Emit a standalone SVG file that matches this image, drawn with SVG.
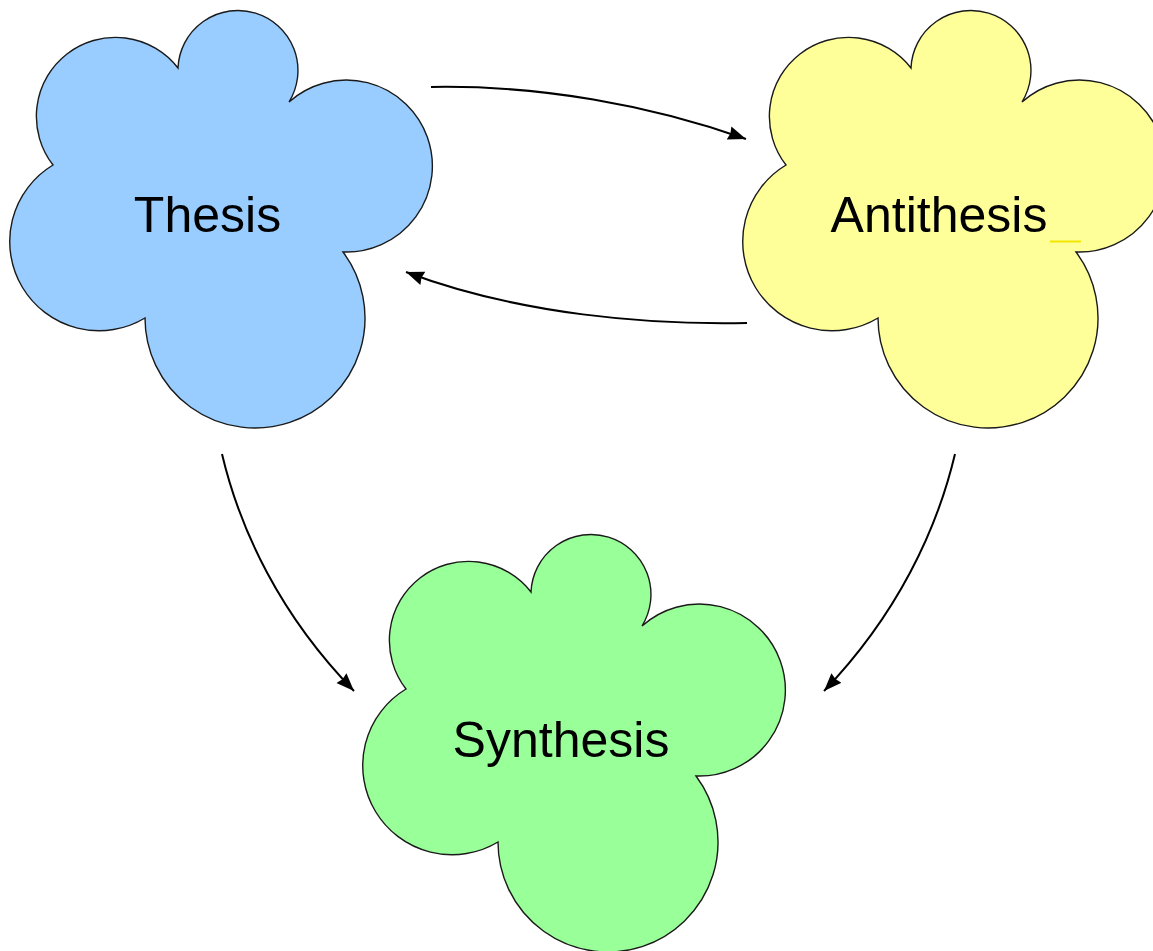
<svg xmlns="http://www.w3.org/2000/svg" width="1153" height="951" viewBox="0 0 1153 951">
  <style>
    .cloud { stroke: #1a1a1a; stroke-width: 1.4; }
    .label { font-family: "Liberation Sans", Arial, sans-serif; font-size: 50px; fill: #000; text-anchor: middle; }
    .conn { fill: none; stroke: #000; stroke-width: 2; marker-end: url(#arrow); }
  </style>
  <defs>
    <path id="cloudShape" d="M53,165 A78,78 0 1 1 178,68 A60,60 0 1 1 289,102 A86,86 0 1 1 343,252 A110,110 0 1 1 145,318 A88,88 0 1 1 53,165 Z"/>
    <marker id="arrow" markerUnits="userSpaceOnUse" markerWidth="20" markerHeight="16" refX="18" refY="7" orient="auto">
      <path d="M0,0 L18,7 L0,14 L1.5,7 Z" fill="#000"/>
    </marker>
  </defs>
  <rect width="1153" height="951" fill="#fff"/>

  <g id="thesis">
    <use href="#cloudShape" class="cloud" fill="#99ccff"/>
    <text class="label" x="207.5" y="232">Thesis</text>
  </g>

  <g id="antithesis">
    <use href="#cloudShape" class="cloud" fill="#ffff99" transform="translate(733,0)"/>
    <text class="label" x="939" y="232">Antithesis</text>
    <line x1="1050" y1="241.5" x2="1081" y2="241.5" stroke="#f2e600" stroke-width="2"/>
  </g>

  <g id="synthesis">
    <use href="#cloudShape" class="cloud" fill="#99ff99" transform="translate(353,524)"/>
    <text class="label" x="561" y="757">Synthesis</text>
  </g>

  <g id="connectors">
    <path class="conn" d="M431,87 C540,85 650,105 746,139"/>
    <path class="conn" d="M747,323 C650,325 520,315 406,272"/>
    <path class="conn" d="M222,454 C240,530 280,615 354,691"/>
    <path class="conn" d="M955,454 C937,530 897,615 824,691"/>
  </g>
</svg>
